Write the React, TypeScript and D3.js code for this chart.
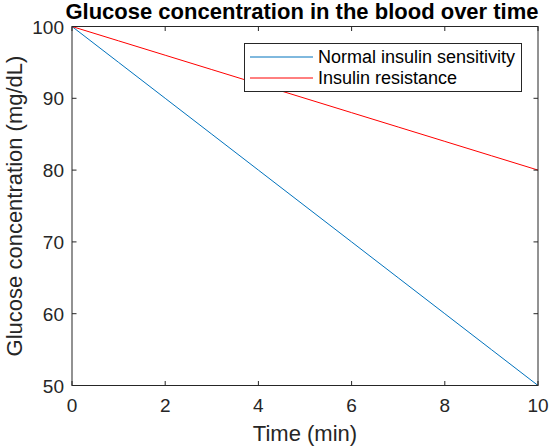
import React from "react";
import * as d3 from "d3";

const times = [0, 1, 2, 3, 4, 5, 6, 7, 8, 9, 10];
const normal = [100, 95, 90, 85, 80, 75, 70, 65, 60, 55, 50];
const resistance = [100, 98, 96, 94, 92, 90, 88, 86, 84, 82, 80];
const xTicks = [0, 2, 4, 6, 8, 10];
const yTicks = [50, 60, 70, 80, 90, 100];
const seriesNames = ["Normal insulin sensitivity", "Insulin resistance"];
const seriesColors = ["#0072BD", "#FF0000"];

export default function App() {
  const W = 553, H = 448;
  const left = 72, right = 538, top = 26.5, bottom = 385.5;
  const x = d3.scaleLinear().domain([0, 10]).range([left, right]);
  const y = d3.scaleLinear().domain([50, 100]).range([bottom, top]);
  const line = d3.line<number>().x((_, i) => x(times[i])).y((d) => y(d));
  const axisColor = "#262626";
  const font = "'Liberation Sans', Arial, sans-serif";
  const tl = 4.5;
  return (
    <svg width={W} height={H} style={{ position: "absolute", left: 0, top: 0, background: "#fff" }} fontFamily={font}>
      <rect x={0} y={0} width={W} height={H} fill="#fff" />
      <path d={line(normal) || ""} fill="none" stroke={seriesColors[0]} strokeWidth={1} />
      <path d={line(resistance) || ""} fill="none" stroke={seriesColors[1]} strokeWidth={1} />
      <rect x={left} y={top} width={right - left} height={bottom - top} fill="none" stroke={axisColor} strokeWidth={1} />
      {xTicks.map((t) => (
        <g key={"x" + t}>
          <line x1={x(t)} x2={x(t)} y1={bottom} y2={bottom - tl} stroke={axisColor} />
          <line x1={x(t)} x2={x(t)} y1={top} y2={top + tl} stroke={axisColor} />
          <text x={x(t)} y={bottom + 26.5} textAnchor="middle" fontSize={19} fill={axisColor}>{t}</text>
        </g>
      ))}
      {yTicks.map((t) => (
        <g key={"y" + t}>
          <line x1={left} x2={left + tl} y1={y(t)} y2={y(t)} stroke={axisColor} />
          <line x1={right} x2={right - tl} y1={y(t)} y2={y(t)} stroke={axisColor} />
          <text x={left - 8} y={y(t) + 7} textAnchor="end" fontSize={19} fill={axisColor}>{t}</text>
        </g>
      ))}
      <text x={(left + right) / 2} y={441} textAnchor="middle" fontSize={22} fill={axisColor}>Time (min)</text>
      <text transform={`translate(22,${(top + bottom) / 2}) rotate(-90)`} textAnchor="middle" fontSize={22} fill={axisColor}>Glucose concentration (mg/dL)</text>
      <text x={(left + right) / 2 - 3} y={19} textAnchor="middle" fontSize={22} fontWeight="bold" fill="#000">Glucose concentration in the blood over time</text>
      <rect x={244.5} y={43.5} width={277} height={48} fill="#fff" stroke={axisColor} strokeWidth={1} />
      {seriesNames.map((n, i) => (
        <g key={n}>
          <line x1={250} x2={313} y1={57 + i * 21} y2={57 + i * 21} stroke={seriesColors[i]} />
          <text x={318} y={63 + i * 21} fontSize={18} fill="#000">{n}</text>
        </g>
      ))}
    </svg>
  );
}
